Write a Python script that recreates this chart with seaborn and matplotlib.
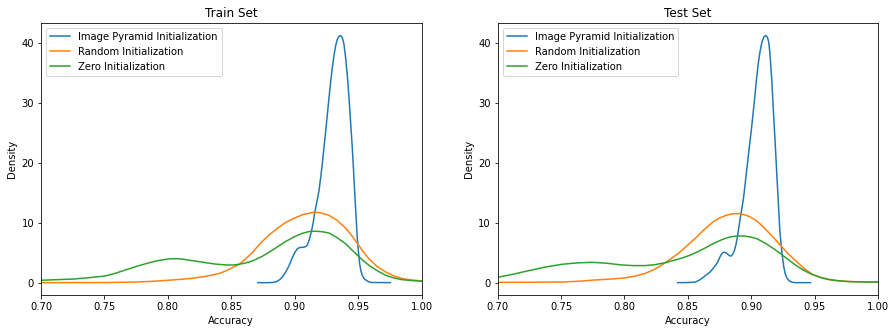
import pandas as pd
import numpy as np
import matplotlib
matplotlib.use("Agg")
import matplotlib.pyplot as plt
import seaborn as sns

# Density curves (accuracy -> density)
labels = ['Image Pyramid Initialization', 'Random Initialization', 'Zero Initialization']
colors = ['#1f77b4', '#ff7f0e', '#2ca02c']

train_pyramid_x = [0.871, 0.880, 0.8835, 0.886, 0.8885, 0.8905, 0.893, 0.8957, 0.898, 0.900,
                   0.9022, 0.9045, 0.9065, 0.9085, 0.910, 0.9114, 0.913, 0.9145, 0.9158, 0.9175,
                   0.9192, 0.9205, 0.9218, 0.9231, 0.9245, 0.9258, 0.9271, 0.9284, 0.9297, 0.931,
                   0.9323, 0.9335, 0.9348, 0.9362, 0.9375, 0.9388, 0.940, 0.9414, 0.9428, 0.9441,
                   0.9454, 0.9465, 0.9475, 0.9485, 0.9493, 0.9503, 0.9512, 0.9522, 0.9532, 0.955,
                   0.9571, 0.959, 0.961, 0.9755]
train_pyramid_y = [0.0, 0.0, 0.05, 0.2, 0.55, 1.0, 1.8, 2.9, 4.1, 5.0,
                   5.7, 5.9, 5.9, 6.0, 6.3, 7.1, 8.4, 9.9, 11.7, 13.5,
                   15.4, 17.6, 19.9, 22.6, 25.4, 28.2, 31.0, 33.6, 36.0, 38.0,
                   39.6, 40.6, 41.15, 41.3, 41.0, 39.9, 37.9, 34.9, 31.0, 26.8,
                   22.6, 18.4, 14.3, 10.7, 7.6, 5.1, 3.2, 2.0, 1.25, 0.6,
                   0.3, 0.1, 0.03, 0.0]

train_random_x = [0.70, 0.75, 0.775, 0.79, 0.80, 0.81, 0.82, 0.83, 0.8408, 0.846,
                  0.85, 0.8564, 0.8615, 0.8669, 0.873, 0.880, 0.8865, 0.8931, 0.900, 0.9061,
                  0.9153, 0.921, 0.9271, 0.9335, 0.9402, 0.9445, 0.9493, 0.954, 0.9585, 0.965,
                  0.9716, 0.978, 0.9846, 0.992, 1.0]
train_random_y = [0.0, 0.02, 0.1, 0.25, 0.4, 0.55, 0.75, 1.05, 1.55, 2.0,
                  2.4, 3.08, 4.0, 5.1, 6.6, 8.0, 9.1, 10.1, 10.8, 11.35,
                  11.8, 11.65, 11.25, 10.4, 9.1, 8.0, 6.6, 5.2, 4.0, 2.7,
                  1.8, 1.15, 0.7, 0.45, 0.3]

train_zero_x = [0.70, 0.7125, 0.7254, 0.7386, 0.75, 0.756, 0.762, 0.7685, 0.775, 0.7815,
                0.7884, 0.794, 0.80, 0.8054, 0.811, 0.8171, 0.825, 0.831, 0.8376, 0.8465,
                0.8515, 0.8564, 0.8615, 0.8669, 0.8735, 0.880, 0.8865, 0.8931, 0.900, 0.9061,
                0.9115, 0.9166, 0.922, 0.9271, 0.9335, 0.9402, 0.9445, 0.9493, 0.954, 0.9585,
                0.965, 0.9716, 0.978, 0.9846, 0.992, 1.0]
train_zero_y = [0.4, 0.5, 0.6, 0.85, 1.1, 1.4, 1.8, 2.25, 2.7, 3.1,
                3.5, 3.75, 3.95, 4.0, 3.95, 3.75, 3.5, 3.3, 3.1, 2.95,
                2.95, 3.08, 3.3, 3.65, 4.3, 5.1, 6.0, 6.9, 7.7, 8.25,
                8.55, 8.6, 8.5, 8.3, 7.5, 6.5, 5.6, 4.6, 3.7, 2.9,
                2.0, 1.25, 0.8, 0.5, 0.35, 0.25]

test_pyramid_x = [0.842, 0.850, 0.8558, 0.8585, 0.861, 0.864, 0.8676, 0.870, 0.8729, 0.8745,
                  0.876, 0.8773, 0.8786, 0.880, 0.8812, 0.8828, 0.8842, 0.8855, 0.8868, 0.888,
                  0.8891, 0.8902, 0.8913, 0.8927, 0.894, 0.8955, 0.897, 0.8985, 0.900, 0.9014,
                  0.9028, 0.9041, 0.9055, 0.907, 0.9084, 0.910, 0.9115, 0.9128, 0.9137, 0.9145,
                  0.9153, 0.9162, 0.9172, 0.9183, 0.9194, 0.9204, 0.9215, 0.9225, 0.9236, 0.9246,
                  0.9256, 0.9267, 0.928, 0.9299, 0.932, 0.9346, 0.9467]
test_pyramid_y = [0.0, 0.02, 0.1, 0.35, 0.7, 1.2, 1.8, 2.4, 3.2, 3.9,
                  4.6, 4.95, 5.1, 5.0, 4.8, 4.5, 4.45, 4.8, 5.45, 6.4,
                  7.7, 9.2, 10.8, 12.5, 14.3, 17.1, 19.9, 22.7, 25.4, 28.2,
                  31.0, 33.9, 36.6, 38.7, 40.2, 41.1, 41.3, 41.0, 40.3, 38.8,
                  36.6, 33.8, 29.7, 25.45, 21.2, 17.1, 12.8, 8.8, 6.2, 4.3,
                  2.7, 1.55, 0.8, 0.3, 0.08, 0.0, 0.0]

test_random_x = [0.70, 0.725, 0.7507, 0.765, 0.7767, 0.79, 0.8004, 0.8085, 0.8164, 0.823,
                 0.8295, 0.836, 0.8426, 0.849, 0.8558, 0.863, 0.8702, 0.8755, 0.8808, 0.885,
                 0.8899, 0.8945, 0.8991, 0.9045, 0.9096, 0.916, 0.9228, 0.929, 0.9359, 0.942,
                 0.949, 0.9555, 0.9622, 0.969, 0.9753, 0.9875, 1.0]
test_random_y = [0.05, 0.07, 0.1, 0.25, 0.45, 0.6, 0.8, 1.1, 1.55, 2.15,
                 2.95, 3.9, 4.9, 6.1, 7.4, 8.9, 10.2, 10.85, 11.3, 11.5,
                 11.55, 11.35, 11.0, 10.3, 9.3, 7.9, 6.3, 4.85, 3.5, 2.3,
                 1.3, 0.8, 0.45, 0.3, 0.2, 0.13, 0.1]

test_zero_x = [0.70, 0.712, 0.7245, 0.7375, 0.7507, 0.7625, 0.7744, 0.786, 0.798, 0.807,
               0.8164, 0.824, 0.832, 0.8385, 0.8453, 0.8512, 0.8571, 0.8637, 0.8702, 0.877,
               0.8834, 0.8885, 0.8939, 0.899, 0.9044, 0.911, 0.9175, 0.9228, 0.928, 0.9345,
               0.9411, 0.9477, 0.9543, 0.961, 0.9675, 0.974, 0.9805, 0.990, 1.0]
test_zero_y = [0.9, 1.4, 2.0, 2.6, 3.07, 3.3, 3.4, 3.25, 2.95, 2.85,
               2.85, 3.0, 3.33, 3.7, 4.1, 4.55, 5.1, 5.8, 6.55, 7.2,
               7.65, 7.8, 7.8, 7.65, 7.35, 6.6, 5.7, 4.9, 4.05, 3.0,
               2.1, 1.4, 0.9, 0.55, 0.35, 0.22, 0.15, 0.12, 0.1]


def build_frame(curves):
    """Stack the (x, y) curves into one long dataframe keyed by method."""
    parts = []
    for label, (xs, ys) in zip(labels, curves):
        parts.append(pd.DataFrame({'Accuracy': xs, 'Density': ys, 'method': label}))
    return pd.concat(parts, ignore_index=True)


train_df = build_frame([(train_pyramid_x, train_pyramid_y),
                        (train_random_x, train_random_y),
                        (train_zero_x, train_zero_y)])
test_df = build_frame([(test_pyramid_x, test_pyramid_y),
                       (test_random_x, test_random_y),
                       (test_zero_x, test_zero_y)])

fig, axes = plt.subplots(1, 2, figsize=(896 / 72, 333 / 72), dpi=72)
fig.subplots_adjust(left=0.0458, right=0.98, top=0.931, bottom=0.114, wspace=0.2)

for ax, df, title in zip(axes, [train_df, test_df], ['Train Set', 'Test Set']):
    sns.lineplot(data=df, x='Accuracy', y='Density', hue='method', hue_order=labels,
                 palette=colors, estimator=None, sort=False, linewidth=1.5, ax=ax)
    ax.set_xlim(0.70, 1.00)
    ax.set_ylim(-2.07, 43.4)
    ax.set_title(title)
    ax.set_xlabel('Accuracy')
    ax.set_ylabel('Density')
    sns.move_legend(ax, 'upper left', title=None)

fig.savefig('out.png', dpi=72)
